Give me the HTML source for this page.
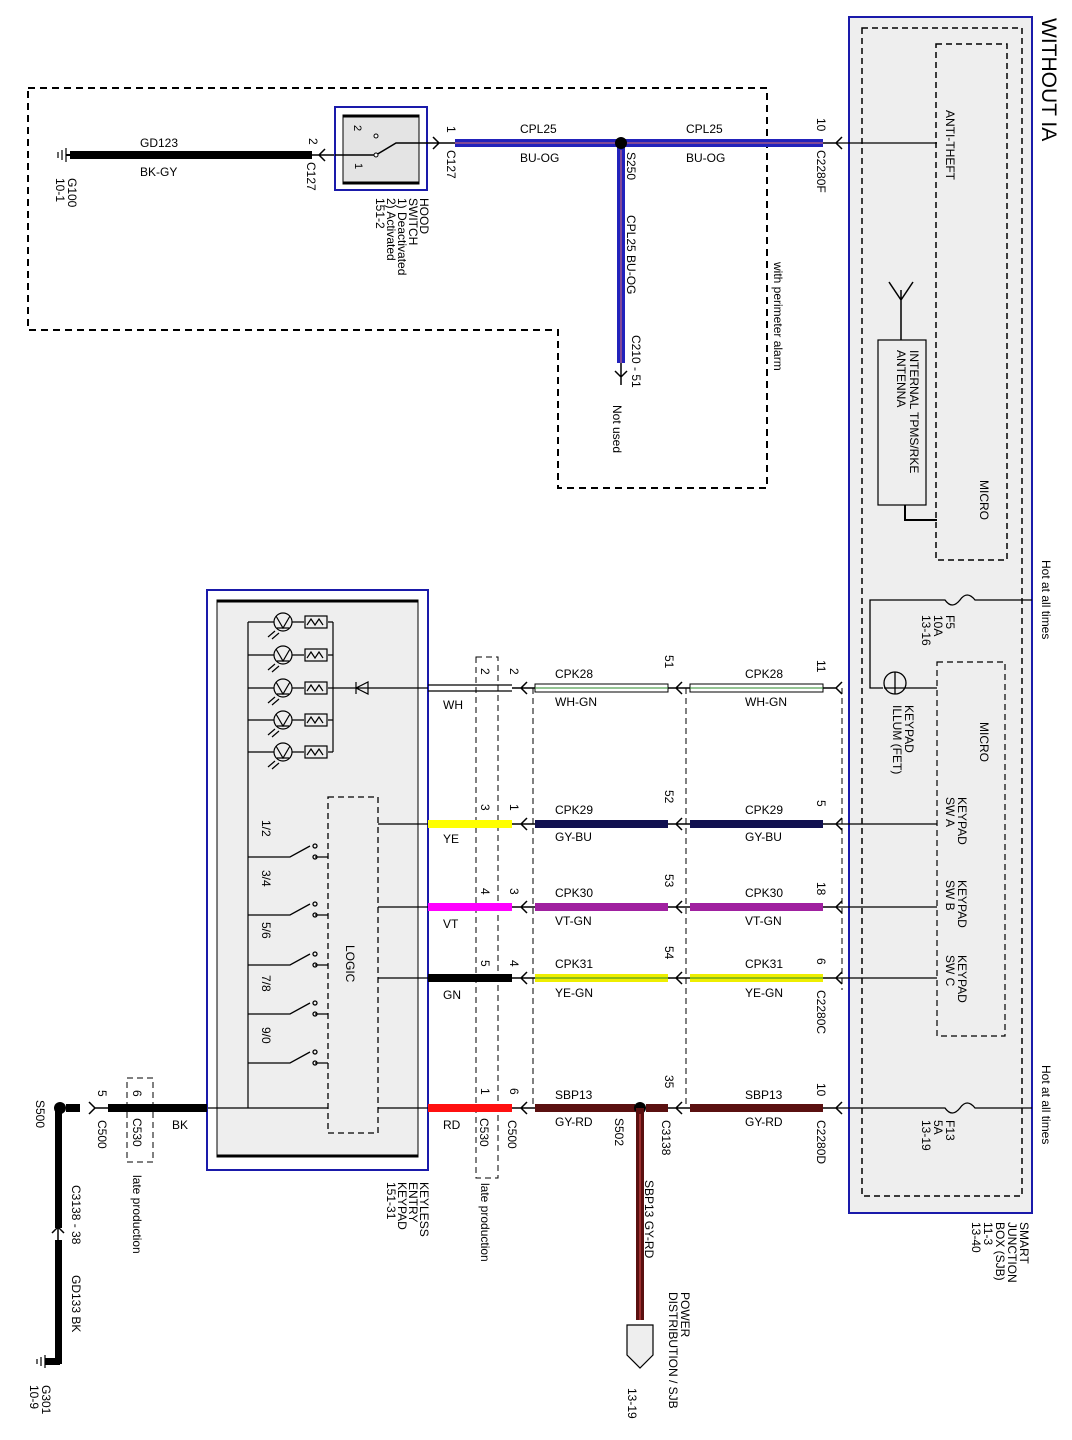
<!DOCTYPE html>
<html><head><meta charset="utf-8"><style>
html,body{margin:0;padding:0;background:#fff}
svg{display:block}
text{font-family:"Liberation Sans",sans-serif;font-size:12px;fill:#000}
</style></head><body>
<svg width="1072" height="1440" viewBox="0 0 1072 1440" xmlns="http://www.w3.org/2000/svg">
<!-- SJB -->
<rect x="849" y="17" width="183" height="1196" fill="#eeeeee" stroke="#1a1aaa" stroke-width="2"/>
<rect x="862" y="28" width="160" height="1168" fill="none" stroke="#000" stroke-width="1.5" stroke-dasharray="6,4"/>
<rect x="936" y="44" width="71" height="516" fill="none" stroke="#000" stroke-width="1.5" stroke-dasharray="6,4"/>
<rect x="937" y="662" width="68" height="374" fill="none" stroke="#000" stroke-width="1.2" stroke-dasharray="6,4"/>
<text transform="translate(1042,18) rotate(90)" style="font-size:21px">WITHOUT IA</text>
<text transform="translate(946,110) rotate(90)">ANTI-THEFT</text>
<text transform="translate(980,480) rotate(90)">MICRO</text>
<text transform="translate(980,722) rotate(90)">MICRO</text>
<rect x="878" y="340" width="48" height="165" fill="none" stroke="#000" stroke-width="1.2"/>
<text transform="translate(910,350) rotate(90)"><tspan x="0">INTERNAL TPMS/RKE</tspan><tspan x="0" dy="13">ANTENNA</tspan></text>
<path d="M901 340 V290 M901 300 L889 282 M901 300 L913 282" stroke="#000" stroke-width="1.5" fill="none"/>
<path d="M905 505 V520 H937" stroke="#000" stroke-width="2" fill="none"/>
<text transform="translate(1042,560) rotate(90)">Hot at all times</text>
<text transform="translate(1042,1065) rotate(90)">Hot at all times</text>
<!-- F5 -->
<path d="M1032 600 H975 Q967 590 960 600 Q952 610 945 600 H870 V688 H883" stroke="#000" stroke-width="1.3" fill="none"/>
<text transform="translate(946,615) rotate(90)"><tspan x="0">F5</tspan><tspan x="0" dy="12">10A</tspan><tspan x="0" dy="12">13-16</tspan></text>
<circle cx="895" cy="683" r="11" fill="none" stroke="#000" stroke-width="1.3"/>
<path d="M895 672 V694 M884 688 H937" stroke="#000" stroke-width="1.3"/>
<text transform="translate(905,705) rotate(90)"><tspan x="0">KEYPAD</tspan><tspan x="0" dy="12">ILLUM (FET)</tspan></text>
<text transform="translate(958,797) rotate(90)"><tspan x="0">KEYPAD</tspan><tspan x="0" dy="12">SW A</tspan></text>
<text transform="translate(958,880) rotate(90)"><tspan x="0">KEYPAD</tspan><tspan x="0" dy="12">SW B</tspan></text>
<text transform="translate(958,955) rotate(90)"><tspan x="0">KEYPAD</tspan><tspan x="0" dy="12">SW C</tspan></text>
<!-- F13 -->
<path d="M1032 1108 H975 Q967 1098 960 1108 Q952 1118 945 1108 H836" stroke="#000" stroke-width="1.3" fill="none"/>
<text transform="translate(946,1120) rotate(90)"><tspan x="0">F13</tspan><tspan x="0" dy="12">5A</tspan><tspan x="0" dy="12">13-19</tspan></text>
<text transform="translate(1020,1222) rotate(90)"><tspan x="0">SMART</tspan><tspan x="0" dy="12">JUNCTION</tspan><tspan x="0" dy="12">BOX (SJB)</tspan><tspan x="0" dy="12">11-3</tspan><tspan x="0" dy="12">13-40</tspan></text>
<path d="M836 143 H937 M836 824 H937 M836 907 H937 M836 978 H937" stroke="#000" stroke-width="1.3"/>

<!-- perimeter dashed -->
<path d="M28 88 H767 V488 H558 V330 H28 Z" fill="none" stroke="#000" stroke-width="2" stroke-dasharray="7,5"/>
<text transform="translate(774,262) rotate(90)">with perimeter alarm</text>
<!-- ground G100 -->
<path d="M66 148 V162 M62 150 V160 M58 152 V158" stroke="#000" stroke-width="1.2"/>
<path d="M66 155 H72" stroke="#000" stroke-width="2"/>
<rect x="70" y="151" width="242" height="8" fill="#000"/>
<text x="140" y="147">GD123</text><text x="140" y="176">BK-GY</text>
<text transform="translate(68,178) rotate(90)"><tspan x="0">G100</tspan><tspan x="0" dy="12">10-1</tspan></text>
<text transform="translate(309,138) rotate(90)">2</text>
<text transform="translate(307,162) rotate(90)">C127</text>
<path d="M325 149 L319 155 L325 161 M312 155 H335" stroke="#000" stroke-width="1.5" fill="none"/>
<!-- hood switch -->
<rect x="335" y="107" width="92" height="83" fill="none" stroke="#1a1aaa" stroke-width="2"/>
<rect x="343" y="115" width="76" height="69" fill="#e4e4e4" stroke="#000"/>
<path d="M343 116 H419 M343 183 H419" stroke="#000" stroke-width="3"/>
<path d="M335 155 H376 L396 143 H427" stroke="#000" stroke-width="1.5" fill="none"/>
<circle cx="376" cy="155" r="2" fill="#fff" stroke="#000"/><circle cx="376" cy="136" r="2" fill="#fff" stroke="#000"/>
<text transform="translate(354,125) rotate(90)" style="font-size:11px">2</text>
<text transform="translate(355,163) rotate(90)" style="font-size:11px">1</text>
<text transform="translate(420,198) rotate(90)"><tspan x="0">HOOD</tspan><tspan x="0" dy="11">SWITCH</tspan><tspan x="0" dy="11">1) Deactivated</tspan><tspan x="0" dy="11">2) Activated</tspan><tspan x="0" dy="11">151-2</tspan></text>
<path d="M427 143 H455 M433 137 L439 143 L433 149" stroke="#000" stroke-width="1.5" fill="none"/>
<text transform="translate(447,126) rotate(90)">1</text>
<text transform="translate(447,150) rotate(90)">C127</text>
<!-- blue wire -->
<rect x="455" y="139" width="368" height="8" fill="#2222bb"/><path d="M455 143 H823" stroke="#e07070" stroke-width="1"/>
<rect x="617" y="143" width="8" height="220" fill="#2222bb"/><path d="M621 150 V363" stroke="#e07070" stroke-width="1"/>
<circle cx="621" cy="143" r="6" fill="#000"/>
<text x="520" y="133">CPL25</text><text x="520" y="162">BU-OG</text>
<text x="686" y="133">CPL25</text><text x="686" y="162">BU-OG</text>
<text transform="translate(627,152) rotate(90)">S250</text>
<text transform="translate(627,215) rotate(90)">CPL25  BU-OG</text>
<text transform="translate(632,335) rotate(90)">C210 - 51</text>
<path d="M621 363 V385 M615 371 L621 377 L627 371" stroke="#000" stroke-width="1.5" fill="none"/>
<text transform="translate(613,405) rotate(90)">Not used</text>
<text transform="translate(817,118) rotate(90)">10</text>
<text transform="translate(817,150) rotate(90)">C2280F</text>
<path d="M823 143 H836 M842 137 L836 143 L842 149" stroke="#000" stroke-width="1.5" fill="none"/>

<!-- keypad -->
<rect x="207" y="590" width="221" height="580" fill="none" stroke="#1a1aaa" stroke-width="2"/>
<rect x="217" y="600" width="201" height="557" fill="#eeeeee" stroke="#000"/>
<path d="M217 601 H418 M217 1156 H418" stroke="#000" stroke-width="3"/>
<g stroke="#000" stroke-width="1.2" fill="none">
<path d="M248 622 V1108 M333 622 V752"/>
<g id="led"><circle cx="283" cy="622" r="9"/><path d="M276 616 L283 628 L290 616 M277 628 H289 M248 622 H274 M292 622 H304 M328 622 H333"/><rect x="305" y="616" width="22" height="12"/><path d="M307 625 L311 619 L315 625 L319 619 L323 625"/><path d="M275 631 L268 637 M279 633 L272 639"/></g>
<use href="#led" y="33"/><use href="#led" y="66"/><use href="#led" y="98"/><use href="#led" y="130"/>
<path d="M333 688 H428 M356 682 V694 M356 688 L368 682 V694 Z"/>
</g>
<g stroke="#000" stroke-width="1.3" fill="none">
<path d="M248 857 H290 L310 846 M315 857 H328"/><circle cx="315" cy="857" r="2"/><circle cx="315" cy="846" r="2"/>
<path d="M248 915 H290 L310 904 M315 915 H328"/><circle cx="315" cy="915" r="2"/><circle cx="315" cy="904" r="2"/>
<path d="M248 965 H290 L310 954 M315 965 H328"/><circle cx="315" cy="965" r="2"/><circle cx="315" cy="954" r="2"/>
<path d="M248 1014 H290 L310 1003 M315 1014 H328"/><circle cx="315" cy="1014" r="2"/><circle cx="315" cy="1003" r="2"/>
<path d="M248 1063 H290 L310 1052 M315 1063 H328"/><circle cx="315" cy="1063" r="2"/><circle cx="315" cy="1052" r="2"/>
<rect x="328" y="797" width="50" height="336" stroke-dasharray="6,4"/>
<path d="M378 824 H428 M378 907 H428 M378 978 H428 M378 1108 H428 M208 1108 H328"/>
</g>
<text transform="translate(262,820) rotate(90)">1/2</text>
<text transform="translate(262,870) rotate(90)">3/4</text>
<text transform="translate(262,922) rotate(90)">5/6</text>
<text transform="translate(262,975) rotate(90)">7/8</text>
<text transform="translate(262,1027) rotate(90)">9/0</text>
<text transform="translate(346,945) rotate(90)">LOGIC</text>
<text transform="translate(420,1182) rotate(90)"><tspan x="0">KEYLESS</tspan><tspan x="0" dy="11">ENTRY</tspan><tspan x="0" dy="11">KEYPAD</tspan><tspan x="0" dy="11">151-31</tspan></text>

<!-- C530 box -->
<rect x="476" y="657" width="22" height="521" fill="none" stroke="#000" stroke-dasharray="6,4"/>
<path d="M533 688 V1108 M686 688 V1108 M842 688 V990" stroke="#000" stroke-dasharray="6,4"/>
<path d="M428 685 H512 M428 691 H512" stroke="#000" stroke-width="1.3"/>
<rect x="535" y="684" width="133" height="8" fill="#fff" stroke="#000"/><path d="M535 688 H668" stroke="#2a8a2a"/>
<rect x="690" y="684" width="133" height="8" fill="#fff" stroke="#000"/><path d="M690 688 H823" stroke="#2a8a2a"/>
<rect x="428" y="820" width="84" height="8" fill="#ffff00"/>
<rect x="535" y="820" width="133" height="8" fill="#101050"/>
<rect x="690" y="820" width="133" height="8" fill="#101050"/>
<rect x="428" y="903" width="84" height="8" fill="#ff00ff"/>
<rect x="535" y="903" width="133" height="8" fill="#a020a0"/>
<rect x="690" y="903" width="133" height="8" fill="#a020a0"/>
<rect x="428" y="974" width="84" height="8" fill="#000"/>
<rect x="535" y="974" width="133" height="8" fill="#eeee00"/><path d="M535 978 H668" stroke="#2a8a2a"/>
<rect x="690" y="974" width="133" height="8" fill="#eeee00"/><path d="M690 978 H823" stroke="#2a8a2a"/>
<rect x="428" y="1104" width="84" height="8" fill="#ff1010"/>
<rect x="535" y="1104" width="100" height="8" fill="#5a1010"/>
<rect x="646" y="1104" width="22" height="8" fill="#5a1010"/>
<rect x="690" y="1104" width="133" height="8" fill="#5a1010"/>
<circle cx="640" cy="1108" r="6" fill="#000"/>
<rect x="636" y="1108" width="8" height="212" fill="#5a1010"/><path d="M640 1114 V1320" stroke="#e05050"/>
<g stroke="#000" stroke-width="1.5" fill="none">
<path d="M512 688 H535 M527 682 L521 688 L527 694 M668 688 H690 M682 682 L676 688 L682 694 M823 688 H836 M842 682 L836 688 L842 694"/>
<path d="M512 824 H535 M527 818 L521 824 L527 830 M668 824 H690 M682 818 L676 824 L682 830 M823 824 H836 M842 818 L836 824 L842 830"/>
<path d="M512 907 H535 M527 901 L521 907 L527 913 M668 907 H690 M682 901 L676 907 L682 913 M823 907 H836 M842 901 L836 907 L842 913"/>
<path d="M512 978 H535 M527 972 L521 978 L527 984 M668 978 H690 M682 972 L676 978 L682 984 M823 978 H836 M842 972 L836 978 L842 984"/>
<path d="M512 1108 H535 M527 1102 L521 1108 L527 1114 M668 1108 H690 M682 1102 L676 1108 L682 1114 M823 1108 H836 M842 1102 L836 1108 L842 1114"/>
</g>
<g>
<text x="555" y="678">CPK28</text><text x="555" y="706">WH-GN</text><text x="745" y="678">CPK28</text><text x="745" y="706">WH-GN</text>
<text x="555" y="814">CPK29</text><text x="555" y="841">GY-BU</text><text x="745" y="814">CPK29</text><text x="745" y="841">GY-BU</text>
<text x="555" y="897">CPK30</text><text x="555" y="925">VT-GN</text><text x="745" y="897">CPK30</text><text x="745" y="925">VT-GN</text>
<text x="555" y="968">CPK31</text><text x="555" y="997">YE-GN</text><text x="745" y="968">CPK31</text><text x="745" y="997">YE-GN</text>
<text x="555" y="1099">SBP13</text><text x="555" y="1126">GY-RD</text><text x="745" y="1099">SBP13</text><text x="745" y="1126">GY-RD</text>
<text x="443" y="709">WH</text><text x="443" y="843">YE</text><text x="443" y="928">VT</text><text x="443" y="999">GN</text><text x="443" y="1129">RD</text><text x="172" y="1129">BK</text>
</g>
<g>
<text transform="translate(481,668) rotate(90)">2</text><text transform="translate(510,668) rotate(90)">2</text><text transform="translate(665,655) rotate(90)">51</text><text transform="translate(817,660) rotate(90)">11</text>
<text transform="translate(481,804) rotate(90)">3</text><text transform="translate(510,804) rotate(90)">1</text><text transform="translate(665,790) rotate(90)">52</text><text transform="translate(817,800) rotate(90)">5</text>
<text transform="translate(481,888) rotate(90)">4</text><text transform="translate(510,888) rotate(90)">3</text><text transform="translate(665,874) rotate(90)">53</text><text transform="translate(817,882) rotate(90)">18</text>
<text transform="translate(481,960) rotate(90)">5</text><text transform="translate(510,960) rotate(90)">4</text><text transform="translate(665,946) rotate(90)">54</text><text transform="translate(817,958) rotate(90)">6</text>
<text transform="translate(481,1088) rotate(90)">1</text><text transform="translate(510,1088) rotate(90)">6</text><text transform="translate(665,1075) rotate(90)">35</text><text transform="translate(817,1083) rotate(90)">10</text>
<text transform="translate(817,990) rotate(90)">C2280C</text>
<text transform="translate(817,1120) rotate(90)">C2280D</text>
<text transform="translate(662,1120) rotate(90)">C3138</text>
<text transform="translate(615,1118) rotate(90)">S502</text>
<text transform="translate(508,1120) rotate(90)">C500</text>
<text transform="translate(480,1118) rotate(90)">C530</text>
<text transform="translate(481,1183) rotate(90)">late production</text>
<text transform="translate(645,1180) rotate(90)">SBP13   GY-RD</text>
<text transform="translate(681,1292) rotate(90)"><tspan x="0">POWER</tspan><tspan x="0" dy="12">DISTRIBUTION / SJB</tspan></text>
<text transform="translate(628,1388) rotate(90)">13-19</text>
</g>
<path d="M627 1325 H653 V1355 L640 1368 L627 1355 Z" fill="#eeeeee" stroke="#000" stroke-width="1.2"/>

<!-- left ground side -->
<rect x="108" y="1104" width="99" height="8" fill="#000"/>
<path d="M95 1108 H108 M89 1102 L95 1108 L89 1114" stroke="#000" stroke-width="1.5" fill="none"/>
<rect x="66" y="1104" width="14" height="8" fill="#000"/>
<circle cx="60" cy="1108" r="6" fill="#000"/>
<rect x="55" y="1108" width="7" height="120" fill="#000"/>
<rect x="55" y="1240" width="7" height="124" fill="#000"/>
<path d="M52 1233 L58 1227 L64 1233 M58 1227 V1240" stroke="#000" stroke-width="1.5" fill="none"/>
<rect x="45" y="1358" width="15" height="7" fill="#000"/>
<path d="M45 1355 V1368 M41 1357 V1366 M37 1359 V1364" stroke="#000" stroke-width="1.2"/>
<rect x="127" y="1078" width="26" height="84" fill="none" stroke="#000" stroke-dasharray="6,4"/>
<text transform="translate(133,1090) rotate(90)">6</text>
<text transform="translate(98,1090) rotate(90)">5</text>
<text transform="translate(98,1120) rotate(90)">C500</text>
<text transform="translate(133,1118) rotate(90)">C530</text>
<text transform="translate(133,1175) rotate(90)">late production</text>
<text transform="translate(36,1100) rotate(90)">S500</text>
<text transform="translate(72,1185) rotate(90)">C3138 - 38</text>
<text transform="translate(72,1275) rotate(90)">GD133    BK</text>
<text transform="translate(42,1385) rotate(90)"><tspan x="0">G301</tspan><tspan x="0" dy="12">10-9</tspan></text>
</svg>
</body></html>
